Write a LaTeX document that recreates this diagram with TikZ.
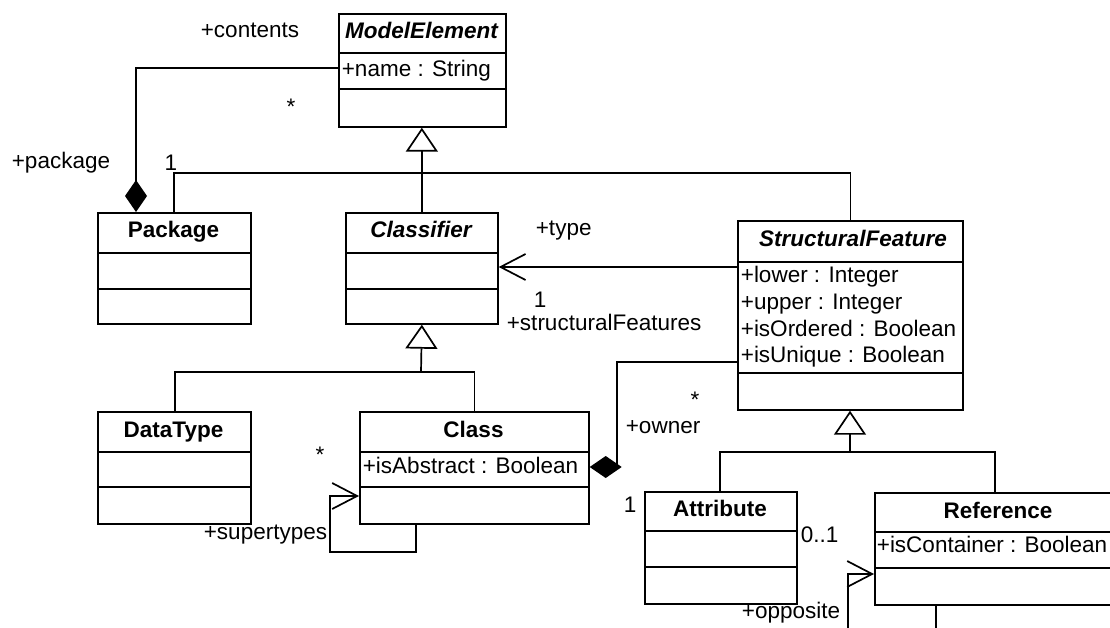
\documentclass[tikz,border=0pt]{standalone}
\usepackage{fontspec}
\setmainfont{Liberation Sans}
\usetikzlibrary{arrows.meta}
\begin{document}
\begin{tikzpicture}[x=1pt,y=-1pt,line width=1.7pt,
  umlbox/.style={draw,rectangle,anchor=north west,inner sep=0pt,line width=1.7pt},
  txt/.style={inner sep=0pt,font=\fontsize{22.5}{26}\selectfont,text height=16pt,text depth=4.5pt},
  title/.style={txt,font=\fontsize{22.5}{26}\selectfont\bfseries},
  abstitle/.style={txt,font=\fontsize{22.5}{26}\selectfont\bfseries\itshape},
  attr/.style={txt,anchor=west},
  lbl/.style={txt,anchor=west},
  mult/.style={inner sep=0pt,font=\fontsize{22.5}{26}\selectfont},
  gen/.style={-{Triangle[open,length=24pt,width=32pt]}},
  nav/.style={-{Straight Barb[length=25pt,width=26pt]}},
  comp/.style={-{Diamond[length=32pt,width=22pt]}},
]
\clip (0,0) rectangle (1110,628);

% ---------- classes ----------
\node[umlbox,minimum width=167pt,minimum height=113pt] (me) at (338,13) {};
\draw (me.west |- 0,53) -- (me.east |- 0,53);
\draw (me.west |- 0,89) -- (me.east |- 0,89);
\node[abstitle] (meT) at (421.5,33) {ModelElement};
\node[attr] (meA) at (341,71) {+name : String};

\node[umlbox,minimum width=153pt,minimum height=111pt] (pkg) at (97,212) {};
\draw (pkg.west |- 0,253) -- (pkg.east |- 0,253);
\draw (pkg.west |- 0,289) -- (pkg.east |- 0,289);
\node[title] (pkgT) at (173.5,232) {Package};

\node[umlbox,minimum width=152pt,minimum height=111pt] (clf) at (345,212) {};
\draw (clf.west |- 0,253) -- (clf.east |- 0,253);
\draw (clf.west |- 0,289) -- (clf.east |- 0,289);
\node[abstitle] (clfT) at (421,232) {Classifier};

\node[umlbox,minimum width=225pt,minimum height=189pt] (sf) at (737,220) {};
\draw (sf.west |- 0,262) -- (sf.east |- 0,262);
\draw (sf.west |- 0,373) -- (sf.east |- 0,373);
\node[abstitle] (sfT) at (853,241) {StructuralFeature};
\node[attr] (sfA1) at (740,277) {+lower : Integer};
\node[attr] (sfA2) at (740,304) {+upper : Integer};
\node[attr] (sfA3) at (740,331) {+isOrdered : Boolean};
\node[attr] (sfA4) at (740,357) {+isUnique : Boolean};

\node[umlbox,minimum width=153pt,minimum height=112pt] (dt) at (97,411) {};
\draw (dt.west |- 0,452) -- (dt.east |- 0,452);
\draw (dt.west |- 0,487) -- (dt.east |- 0,487);
\node[title] (dtT) at (173.5,432) {DataType};

\node[umlbox,minimum width=229pt,minimum height=112pt] (cls) at (359,411) {};
\draw (cls.west |- 0,452) -- (cls.east |- 0,452);
\draw (cls.west |- 0,487) -- (cls.east |- 0,487);
\node[title] (clsT) at (473.5,432) {Class};
\node[attr] (clsA) at (362,468) {+isAbstract : Boolean};

\node[umlbox,minimum width=152pt,minimum height=112pt] (att) at (644,491) {};
\draw (att.west |- 0,531) -- (att.east |- 0,531);
\draw (att.west |- 0,567) -- (att.east |- 0,567);
\node[title] (attT) at (720,511) {Attribute};

\node[umlbox,minimum width=250pt,minimum height=112pt] (ref) at (874,492) {};
\draw (ref.west |- 0,532) -- (ref.east |- 0,532);
\draw (ref.west |- 0,568) -- (ref.east |- 0,568);
\node[title] (refT) at (998,513) {Reference};
\node[attr] (refA) at (876,547) {+isContainer : Boolean};

% ---------- connectors ----------
% package contents (composition)
\draw[comp] (me.west |- 0,68) -| (pkg.north -| 136,0);

% generalizations to ModelElement
\coordinate (j1) at (421,173);
\draw[gen] (clf.north) -- (me.south -| clf.north);
\draw (pkg.north -| 174,0) |- (j1);
\draw (sf.north) |- (j1);

% generalizations to Classifier
\coordinate (j2) at (421,372);
\draw[gen] (j2) -- (clf.south);
\draw (dt.north -| 175,0) |- (j2);
\draw (cls.north) |- (j2);

% type
\draw[nav] (sf.west |- 0,267) -- (clf.east |- 0,267);

% owner / structuralFeatures (composition)
\draw[comp] (sf.west |- 0,362) -- (617,362) -- (617,467) -- (cls.east |- 0,467);

% supertypes self association
\draw[nav] (cls.south -| 416,0) -- (416,552) -- (330,552) -- (330,496) -- (cls.west |- 0,496);

% generalizations to StructuralFeature
\coordinate (j3) at (850,452);
\draw[gen] (j3) -- (sf.south -| j3);
\draw (att.north -| 720,0) |- (j3);
\draw (ref.north -| 995,0) |- (j3);

% opposite
\coordinate (oppEnd) at (848,632);
\draw[nav] (oppEnd) |- (ref.west |- 0,574);
\coordinate (refEnd) at (936,632);
\draw (ref.south -| refEnd) -- (refEnd);

% ---------- role names and multiplicities ----------
\node[lbl] (lContents) at (200,32) {+contents};
\node[mult] (mStar1) at (291,106.75) {*};
\node[lbl] (lPackage) at (11,163) {+package};
\node[mult] (mOne1) at (171,162.75) {1};
\node[lbl] (lType) at (535,230) {+type};
\node[mult] (mOne2) at (540,299.5) {1};
\node[lbl] (lSF) at (506,325) {+structuralFeatures};
\node[mult] (mStar2) at (695,399.75) {*};
\node[lbl] (lOwner) at (625,428) {+owner};
\node[mult] (mStar3) at (320,454.75) {*};
\node[lbl] (lSuper) at (203,534) {+supertypes};
\node[mult] (mOne3) at (630,504.75) {1};
\node[lbl] (lZeroOne) at (800,537) {0..1};
\node[lbl] (lOpp) at (741,613) {+opposite};
\end{tikzpicture}
\end{document}
